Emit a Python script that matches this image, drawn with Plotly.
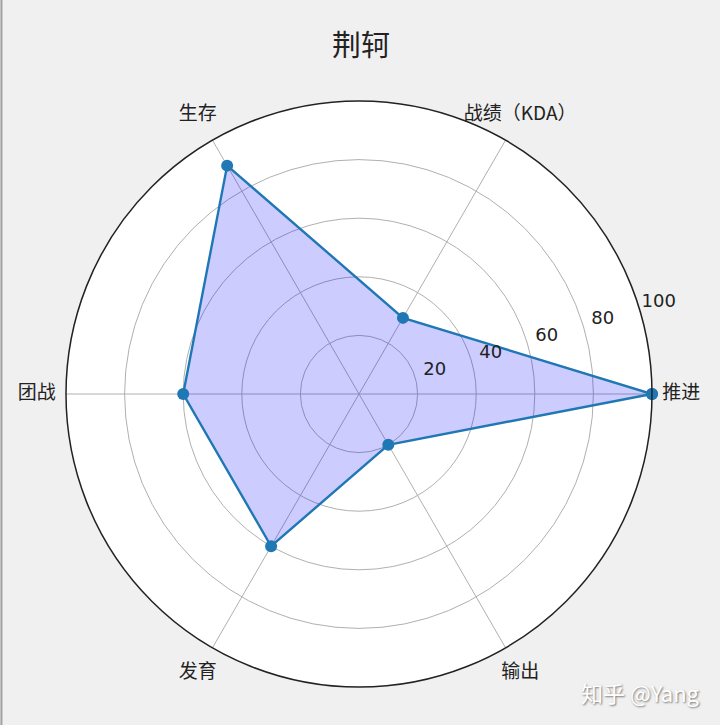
import plotly.graph_objects as go

# radar data for 荆轲
categories = ['推进', '战绩（KDA）', '生存', '团战', '发育', '输出']
values = [100, 30, 90, 60, 60, 20]
radial_ticks = [20, 40, 60, 80, 100]
radial_labels = ['20', '40', '60', '80', '100']

W, H = 720, 725
cx, cy, rad = 359, 394, 293
label_max = 112  # range of the overlay polar that carries the text labels

step = 360 / len(categories)
angles = [i * step for i in range(len(categories))]


def domain(radius):
    return dict(x=[(cx - radius) / W, (cx + radius) / W],
                y=[1 - (cy + radius) / H, 1 - (cy - radius) / H])


fig = go.Figure()
fig.add_trace(go.Scatterpolar(
    r=values + values[:1],
    theta=angles + angles[:1],
    mode='lines+markers',
    fill='toself',
    fillcolor='rgba(0,0,255,0.2)',
    line=dict(color='#1f77b4', width=2.4),
    marker=dict(color='#1f77b4', size=12),
    showlegend=False, hoverinfo='skip',
))

# category labels, centred just outside the rim like matplotlib does
fig.add_trace(go.Scatterpolar(
    r=[110] * len(categories), theta=angles, text=categories,
    mode='text', textposition='middle center', subplot='polar2',
    textfont=dict(size=19, color='#222'),
    showlegend=False, hoverinfo='skip',
))

# radial tick labels
fig.add_trace(go.Scatterpolar(
    r=[v + 7 for v in radial_ticks], theta=[17] * len(radial_ticks),
    text=radial_labels, mode='text', textposition='middle center',
    subplot='polar2',
    textfont=dict(size=18, color='#222', family='DejaVu Sans'),
    showlegend=False, hoverinfo='skip',
))

fig.update_layout(
    width=W, height=H,
    margin=dict(l=0, r=0, t=0, b=0),
    paper_bgcolor='#f0f0f0',
    font=dict(family='Noto Sans CJK SC, DejaVu Sans', color='#222'),
    polar=dict(
        domain=domain(rad),
        bgcolor='white',
        angularaxis=dict(
            direction='counterclockwise', rotation=0, thetaunit='degrees',
            tickvals=angles, showticklabels=False,
            showline=True, linecolor='#222', linewidth=1.5,
            gridcolor='#b0b0b0', gridwidth=1, ticks='',
        ),
        radialaxis=dict(
            range=[0, 100], angle=22.5,
            tickvals=radial_ticks, showline=False, ticks='',
            showticklabels=False,
            gridcolor='#b0b0b0', gridwidth=1,
        ),
    ),
    polar2=dict(
        domain=domain(rad * label_max / 100),
        bgcolor='rgba(0,0,0,0)',
        angularaxis=dict(direction='counterclockwise', rotation=0,
                         thetaunit='degrees', visible=False),
        radialaxis=dict(range=[0, label_max], visible=False),
    ),
    title=dict(text='荆轲', x=361 / W, xanchor='center', y=1 - 46 / H,
               yanchor='middle', font=dict(size=29, color='#222')),
    annotations=[dict(
        text='知乎 @Yang', x=702 / W, y=1 - 692 / H, xref='paper', yref='paper',
        xanchor='right', yanchor='middle', showarrow=False,
        font=dict(size=22, color='white', shadow='1px 1px 2px #777'),
    )],
    shapes=[dict(type='line', xref='paper', yref='paper', x0=0.002, x1=0.002,
                 y0=0, y1=1, line=dict(color='#a0a0a0', width=2))],
)

fig.write_html('out.html', config=dict(displayModeBar=False),
               post_script="document.body.style.margin='0';"
                           "document.body.style.background='#f0f0f0';")
